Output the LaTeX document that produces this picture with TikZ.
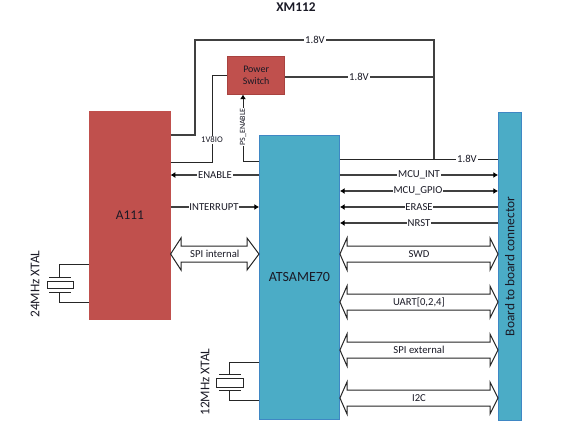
\documentclass[tikz,border=0pt]{standalone}
\usepackage{fontspec}
\setmainfont{Carlito}
\usetikzlibrary{arrows.meta,calc}
\definecolor{redfill}{HTML}{C0504D}
\definecolor{reddraw}{HTML}{A8423F}
\definecolor{bluefill}{HTML}{4BACC6}
\definecolor{bluedraw}{HTML}{3F87C4}
\definecolor{linegray}{HTML}{404040}
\definecolor{txt}{HTML}{1A1A26}
\tikzset{
  x=0.75pt,y=-0.75pt,
  every node/.style={font=\fontsize{8}{9}\selectfont,text=txt},
  block/.style={draw=#1,line width=0.7pt,inner sep=0,minimum width=0,anchor=north west},
  wire/.style={draw=black!85,line width=0.7pt},
  rail/.style={draw=linegray,line width=0.8pt},
  sig/.style={draw=linegray,line width=1pt},
  tipr/.style={-{Latex[length=3.5pt,width=4.5pt,black]}},
  tipl/.style={{Latex[length=3.5pt,width=4.5pt,black]}-},
  tipb/.style={{Latex[length=3.5pt,width=4.5pt,black]}-{Latex[length=3.5pt,width=4.5pt,black]}},
  lab/.style={fill=white,inner sep=0.6pt},
  wide/.style={draw=black!85,line width=0.75pt,fill=white},
  xt/.style={draw=black!85,line width=0.7pt},
}
\newcommand{\widearrow}[6]{% left node, right node, y, label, left base, right base
  \coordinate (wl) at (#1.east |- 0,#3);
  \coordinate (wr) at (#2.west |- 0,#3);
  \draw[wide] (wl) -- (#5,#3-16) -- (#5,#3-8) -- (#6,#3-8) -- (#6,#3-16) -- (wr) -- (#6,#3+16) -- (#6,#3+8) -- (#5,#3+8) -- (#5,#3+16) -- cycle;
  \node at ($(wl)!0.5!(wr)$) {#4};
}
\begin{document}
\begin{tikzpicture}
\useasboundingbox (0,0) rectangle (562,430);
% blocks
\node[block=redfill,fill=redfill,minimum width=60.5pt,minimum height=156pt] (a111) at (89,111) {};
\node at (a111.center) {\fontsize{10}{11}\selectfont A111};
\node[block=bluedraw,fill=bluefill,minimum width=60pt,minimum height=213pt] (atsame) at (259,135) {};
\node at (atsame.center) {\fontsize{10.5}{11}\selectfont ATSAME70};
\node[block=bluedraw,fill=bluefill,minimum width=17pt,minimum height=231pt] (conn) at (498,112) {};
\node[rotate=90] at (conn.center) {\fontsize{10}{11}\selectfont Board to board connector};
\node[block=reddraw,fill=redfill,minimum width=43pt,minimum height=29pt] (psw) at (227,55.5) {};
\node[align=center,font=\fontsize{7.5}{9.5}\selectfont] at (psw.center) {Power\\Switch};
\node[font=\fontsize{10}{11}\selectfont\bfseries] (title) at (296,7) {XM112};
% power rails
\coordinate (junctop) at (434,40);
\coordinate (juncmid) at (434,77);
\coordinate (juncbot) at (434,159);
\draw[rail] (a111.east |- 0,135) -- (195,135) -- (195,40) -- (junctop) -- (juncbot);
\node[lab] at (315,40) {1.8V};
\draw[rail] (psw.east |- juncmid) -- (juncmid);
\node[lab] at (359,77) {1.8V};
\draw[wire] (atsame.east |- juncbot) -- (conn.west |- juncbot);
\node[lab] at (467,159) {1.8V};
\draw[wire] (a111.east |- 0,162) -- (212,162) -- (212,75) -- (psw.west |- 0,75);
\node[lab,font=\fontsize{6.5}{8}\selectfont] at (212,140) {1V8IO};
\draw[wire,tipr] (atsame.west |- 0,161) -- (243,161) -- (243,94.5);
\node[lab,rotate=90,font=\fontsize{6}{7}\selectfont] at (243,127) {PS\_ENABLE};
% signals left
\draw[sig,tipr] (atsame.west |- 0,175) -- (a111.east |- 0,175);
\node[lab] at (215,175) {ENABLE};
\draw[sig,tipr] (a111.east |- 0,207) -- (atsame.west |- 0,207);
\node[lab] at (214,207) {INTERRUPT};
% signals right
\draw[sig,tipr] (atsame.east |- 0,175) -- (conn.west |- 0,175);
\node[lab] at (419,175) {MCU\_INT};
\draw[sig,tipb] (atsame.east |- 0,191) -- (conn.west |- 0,191);
\node[lab] at (418,191) {MCU\_GPIO};
\draw[sig,tipl] (atsame.east |- 0,207) -- (conn.west |- 0,207);
\node[lab] at (419,207) {ERASE};
\draw[sig,tipl] (atsame.east |- 0,223) -- (conn.west |- 0,223);
\node[lab] at (419,223) {NRST};
% wide arrows
\widearrow{a111}{atsame}{254}{SPI internal}{181}{247}
\widearrow{atsame}{conn}{254}{SWD}{347}{490}
\widearrow{atsame}{conn}{302}{UART[0,2,4]}{347}{490}
\widearrow{atsame}{conn}{350}{SPI external}{347}{490}
\widearrow{atsame}{conn}{398}{I2C}{347}{490}
% crystals
\draw[xt] (a111.west |- 0,264) -- (59,264) -- (59,277);
\draw[xt] (49,277) -- (71,277);
\draw[xt] (47,281) rectangle (73,288);
\draw[xt] (49,292) -- (71,292);
\draw[xt] (59,292) -- (59,302) -- (a111.west |- 0,302);
\node[rotate=90,font=\fontsize{10}{11}\selectfont] at (35,284) {24MHz XTAL};
\draw[xt] (atsame.west |- 0,362) -- (229,362) -- (229,374);
\draw[xt] (219,374) -- (241,374);
\draw[xt] (216,378) rectangle (243,387);
\draw[xt] (219,390) -- (241,390);
\draw[xt] (229,390) -- (229,400) -- (atsame.west |- 0,400);
\node[rotate=90,font=\fontsize{10}{11}\selectfont] at (205,382) {12MHz XTAL};
\end{tikzpicture}
\end{document}
